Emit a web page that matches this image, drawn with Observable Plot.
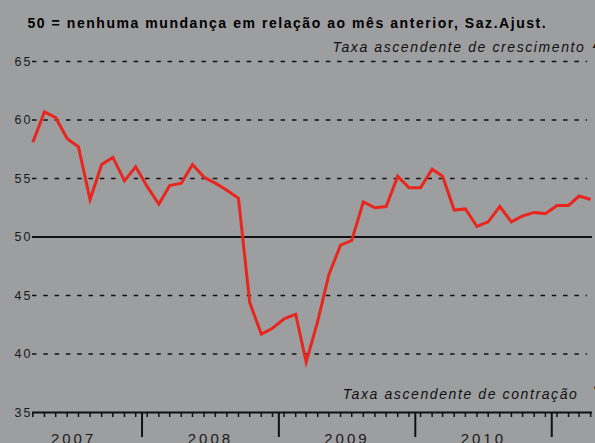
<!DOCTYPE html>
<html><head><meta charset="utf-8">
<script src="https://cdn.jsdelivr.net/npm/d3@7"></script>
<script src="https://cdn.jsdelivr.net/npm/@observablehq/plot@0.6"></script>
<style>
html,body{margin:0;padding:0;background:#9d9ea0;overflow:hidden;}
#chart svg{display:block;}
</style></head><body><div id="chart"></div>
<script>
const months = ["2007-03","2007-04","2007-05","2007-06","2007-07","2007-08","2007-09","2007-10","2007-11","2007-12",
"2008-01","2008-02","2008-03","2008-04","2008-05","2008-06","2008-07","2008-08","2008-09","2008-10","2008-11","2008-12",
"2009-01","2009-02","2009-03","2009-04","2009-05","2009-06","2009-07","2009-08","2009-09","2009-10","2009-11","2009-12",
"2010-01","2010-02","2010-03","2010-04","2010-05","2010-06","2010-07","2010-08","2010-09","2010-10","2010-11","2010-12",
"2011-01","2011-02","2011-03","2011-04"];
const values = [58.1,60.7,60.2,58.4,57.7,53.2,56.2,56.8,54.8,56.0,
54.3,52.8,54.4,54.6,56.2,55.1,54.6,54.0,53.3,44.4,41.7,42.2,
43.0,43.4,39.3,42.8,46.8,49.3,49.7,53.0,52.5,52.6,55.2,54.2,
54.2,55.8,55.2,52.3,52.4,50.9,51.3,52.6,51.3,51.8,52.1,52.0,
52.7,52.7,53.5,53.2];
const yTicks = [65,60,55,50,45,40,35];
const gridDashed = [65,60,55,45,40];
const baseline = [50];
const axisLine = [35];
const yearLabels = ["2007","2008","2009","2010"];
const yearBoundaries = ["2008","2009","2010","2011"];
const title = "50 = nenhuma mundança em relação ao mês anterior, Saz.Ajust.";
const upperNote = "Taxa ascendente de crescimento";
const lowerNote = "Taxa ascendente de contração";

const toDate = s => new Date(Date.UTC(+s.slice(0,4), +s.slice(5,7)-1, 15));
const data = months.map((m,i)=>({date: toDate(m), value: values[i]}));
const ink = "#111";

const plot = Plot.plot({
  width: 595, height: 443,
  marginLeft: 32, marginRight: 3, marginTop: 61, marginBottom: 31,
  style: {background: "#9d9ea0", fontFamily: "'Liberation Sans', Arial, sans-serif", color: ink, overflow: "hidden"},
  x: {type: "utc", domain: [new Date(Date.UTC(2007,2,14)), new Date(Date.UTC(2011,3,20))], axis: null},
  y: {domain: [35,65], axis: null},
  marks: [
    Plot.ruleY(gridDashed, {stroke: ink, strokeWidth: 1.6, strokeDasharray: "4.5,6.8", insetRight: 5}),
    Plot.ruleY(baseline, {stroke: ink, strokeWidth: 1.8}),
    Plot.ruleY(axisLine, {stroke: ink, strokeWidth: 2}),
    Plot.ruleX(data, {x: "date", y1: 35, y2: 35, insetBottom: -5, stroke: ink, strokeWidth: 1.5}),
    Plot.ruleX(yearBoundaries, {x: d => new Date(Date.UTC(+d,0,1)), y1: 35, y2: 35, insetBottom: -25, stroke: ink, strokeWidth: 2}),
    Plot.text(yTicks, {y: d => d, frameAnchor: "left", text: d => String(d), textAnchor: "end", dx: 0, fontSize: 12.5, fill: "#1a1a1a"}),
    Plot.text(yearLabels, {x: d => new Date(Date.UTC(+d,6,2)), frameAnchor: "bottom", text: d => d, lineAnchor: "top", dy: 21, fontSize: 15, fill: "#1a1a1a"}),
    Plot.line(data, {x: "date", y: "value", stroke: "#e8261d", strokeWidth: 3, strokeLinejoin: "miter", strokeMiterlimit: 10, strokeLinecap: "butt"}),
    Plot.text([title], {frameAnchor: "top-left", text: d => d, textAnchor: "start", lineAnchor: "bottom", dx: -5, dy: -34, fontSize: 14, fontWeight: "bold", fill: "#000"}),
    Plot.text([upperNote], {frameAnchor: "top-right", text: d => d, textAnchor: "end", lineAnchor: "bottom", dx: -7, dy: -10, fontSize: 14, fontStyle: "italic", fill: "#111"}),
    Plot.text([lowerNote], {frameAnchor: "bottom-right", text: d => d, textAnchor: "end", lineAnchor: "bottom", dx: -14, dy: -13.5, fontSize: 14, fontStyle: "italic", fill: "#111"}),
    Plot.text(["▲"], {frameAnchor: "top-right", text: d => d, textAnchor: "start", lineAnchor: "bottom", dx: -2, dy: -14, fontSize: 11, fill: "#111"}),
    Plot.text(["▼"], {frameAnchor: "bottom-right", text: d => d, textAnchor: "start", lineAnchor: "bottom", dx: -1, dy: -20, fontSize: 11, fill: "#111"})
  ]
});
document.getElementById("chart").appendChild(plot);
const spacing = new Map([[title, "1.55px"], [upperNote, "1.6px"], [lowerNote, "1.6px"]]);
yTicks.forEach(t => spacing.set(String(t), "2px"));
yearLabels.forEach(t => spacing.set(t, "3px"));
d3.select(plot).selectAll("text").each(function() {
  const s = spacing.get(this.textContent);
  if (s) this.style.letterSpacing = s;
});
</script></body></html>
